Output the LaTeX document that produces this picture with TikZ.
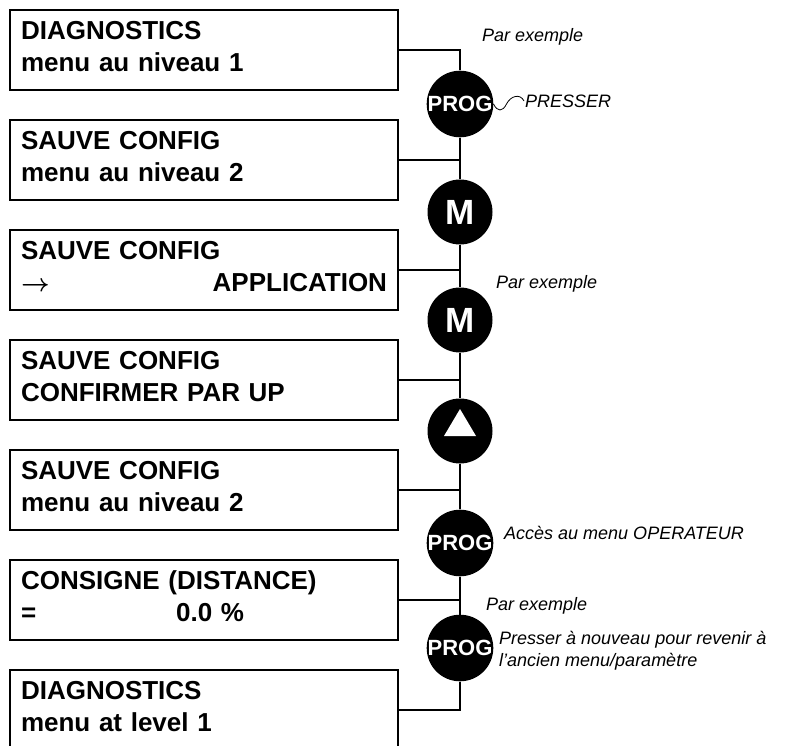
\documentclass[tikz,border=0pt]{standalone}
\usepackage{fontspec}
\setmainfont{Liberation Sans}
\usetikzlibrary{positioning,calc}
\newcommand{\lcdstrut}{\rule[-7pt]{0pt}{25pt}}
\tikzset{
  lcdbox/.style={draw,line width=2.2pt,outer sep=0pt,minimum width=388pt,minimum height=80pt,inner xsep=11pt,inner ysep=0pt,text width=366pt,align=left,font=\fontsize{26}{32}\selectfont\bfseries},
  keybtn/.style={circle,fill=black,minimum size=65pt,inner sep=0pt,text=white,font=\fontsize{22}{22}\selectfont\bfseries},
  mkey/.style={keybtn,font=\fontsize{35}{35}\selectfont\bfseries},
  note/.style={anchor=west,inner sep=1pt,align=left,font=\fontsize{18}{22}\selectfont\itshape},
  wire/.style={line width=2.2pt}
}
\begin{document}
\begin{tikzpicture}[x=1pt,y=-1pt,node distance=30pt]
  \useasboundingbox (0,0) rectangle (787,746);
  % display states
  \node[lcdbox,anchor=north west] (diag) at (10,10) {\lcdstrut DIAGNOSTICS\\\lcdstrut menu au niveau 1};
  \node[lcdbox,below=of diag] (save) {\lcdstrut SAUVE CONFIG\\\lcdstrut menu au niveau 2};
  \node[lcdbox,below=of save] (appl) {\lcdstrut SAUVE CONFIG\\\lcdstrut{\boldmath$\rightarrow$}\hfill APPLICATION};
  \node[lcdbox,below=of appl] (conf) {\lcdstrut SAUVE CONFIG\\\lcdstrut CONFIRMER PAR UP};
  \node[lcdbox,below=of conf] (saveb) {\lcdstrut SAUVE CONFIG\\\lcdstrut menu au niveau 2};
  \node[lcdbox,below=of saveb] (cons) {\lcdstrut CONSIGNE (DISTANCE)\\\lcdstrut =\hspace{140pt}0.0 \%};
  \node[lcdbox,below=of cons] (diagb) {\lcdstrut DIAGNOSTICS\\\lcdstrut menu at level 1};
  % keys
  \node[keybtn] (prog1) at (460,104) {PROG};
  \node[mkey] (m1) at (460,212) {M};
  \node[mkey] (m2) at (460,320) {M};
  \node[keybtn] (up) at (460,431) {};
  \fill[white] ($(up)+(0,-22)$) -- ($(up)+(16,5)$) -- ($(up)+(-16,5)$) -- cycle;
  \node[keybtn] (prog2) at (460,543) {PROG};
  \node[keybtn] (prog3) at (460,648) {PROG};
  \draw[wire] (diag.east) -| (prog1.north);\draw[wire] (prog1.south) |- (save.east);
  \draw[wire] (save.east) -| (m1.north);\draw[wire] (m1.south) |- (appl.east);
  \draw[wire] (appl.east) -| (m2.north);\draw[wire] (m2.south) |- (conf.east);
  \draw[wire] (conf.east) -| (up.north);\draw[wire] (up.south) |- (saveb.east);
  \draw[wire] (saveb.east) -| (prog2.north);\draw[wire] (prog2.south) |- (cons.east);
  \draw[wire] (cons.east) -| (prog3.north);\draw[wire] (prog3.south) |- (diagb.east);
  % remarks
  \node[note] (ex1) at (481,37) {Par exemple};
  \node[note] (press) at (524,101) {PRESSER};
  \draw[line width=0.8pt] (prog1.east) .. controls +(4,8) and +(-4,8) .. ++(13,0) .. controls +(4,-8) and +(-4,-8) .. (press.west);
  \node[note] (ex2) at (495,284) {Par exemple};
  \node[note] (acces) at (503,533) {Accès au menu OPERATEUR};
  \node[note] (ex3) at (485,606) {Par exemple};
  \node[note] (again) at (498,651) {Presser à nouveau pour revenir à\\l’ancien menu/paramètre};
\end{tikzpicture}
\end{document}
